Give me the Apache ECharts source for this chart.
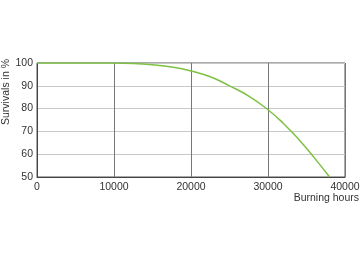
<!DOCTYPE html>
<html><head><meta charset="utf-8">
<script src="https://cdn.jsdelivr.net/npm/echarts@6/dist/echarts.min.js"></script>
<style>html,body{margin:0;padding:0;background:#fff}#c{width:360px;height:262px}</style>
</head><body><div id="c"></div>
<script>
var hours = [0, 10000, 12500, 15000, 17500, 20000, 22500, 25000, 27500, 30000, 32000, 34000, 36000, 38000];
var survival = [100, 100, 99.8, 99.2, 98.2, 96.5, 94, 90, 85.5, 79.5, 73.5, 66.5, 58.5, 50];
var xTicks = [0, 10000, 20000, 30000, 40000];
var yTicks = [50, 60, 70, 80, 90, 100];
var xName = 'Burning hours';
var yName = 'Survivals in %';

var chart = echarts.init(document.getElementById('c'), null, {renderer: 'canvas'});
var font = 'Liberation Sans';
chart.setOption({
  animation: false,
  grid: {left: 37, right: 15, top: 63, bottom: 85, containLabel: false, outerBoundsMode: 'none',
    show: true, borderColor: '#555', borderWidth: 1, backgroundColor: 'transparent'},
  xAxis: {
    type: 'value', min: xTicks[0], max: xTicks[xTicks.length - 1], interval: 10000,
    axisLine: {show: true, lineStyle: {color: '#444', width: 1}},
    axisTick: {show: false},
    axisLabel: {color: '#333', fontFamily: font, fontSize: 10.5, margin: 5, formatter: function (v) { return String(v); }},
    splitLine: {show: true, lineStyle: {color: '#777', width: 1}}
  },
  yAxis: {
    type: 'value', min: yTicks[0], max: yTicks[yTicks.length - 1], interval: 10,
    axisLine: {show: true, lineStyle: {color: '#444', width: 1}},
    axisTick: {show: false},
    axisLabel: {color: '#333', fontFamily: font, fontSize: 10.5, margin: 4},
    splitLine: {show: true, lineStyle: {color: '#c8c8c8', width: 1}}
  },
  graphic: [
    {type: 'text', x: 359, y: 198, style: {text: xName, fill: '#333', font: '10.5px "Liberation Sans"', textAlign: 'right', textVerticalAlign: 'middle'}},
    {type: 'text', x: 6, y: 92, rotation: Math.PI / 2, style: {text: yName, fill: '#333', font: '10.5px "Liberation Sans"', textAlign: 'center', textVerticalAlign: 'middle'}}
  ],
  series: [{
    type: 'line', smooth: true, symbol: 'none',
    data: hours.map(function (h, i) { return [h, survival[i]]; }),
    lineStyle: {color: '#7dc142', width: 1.5}
  }]
});
</script></body></html>
